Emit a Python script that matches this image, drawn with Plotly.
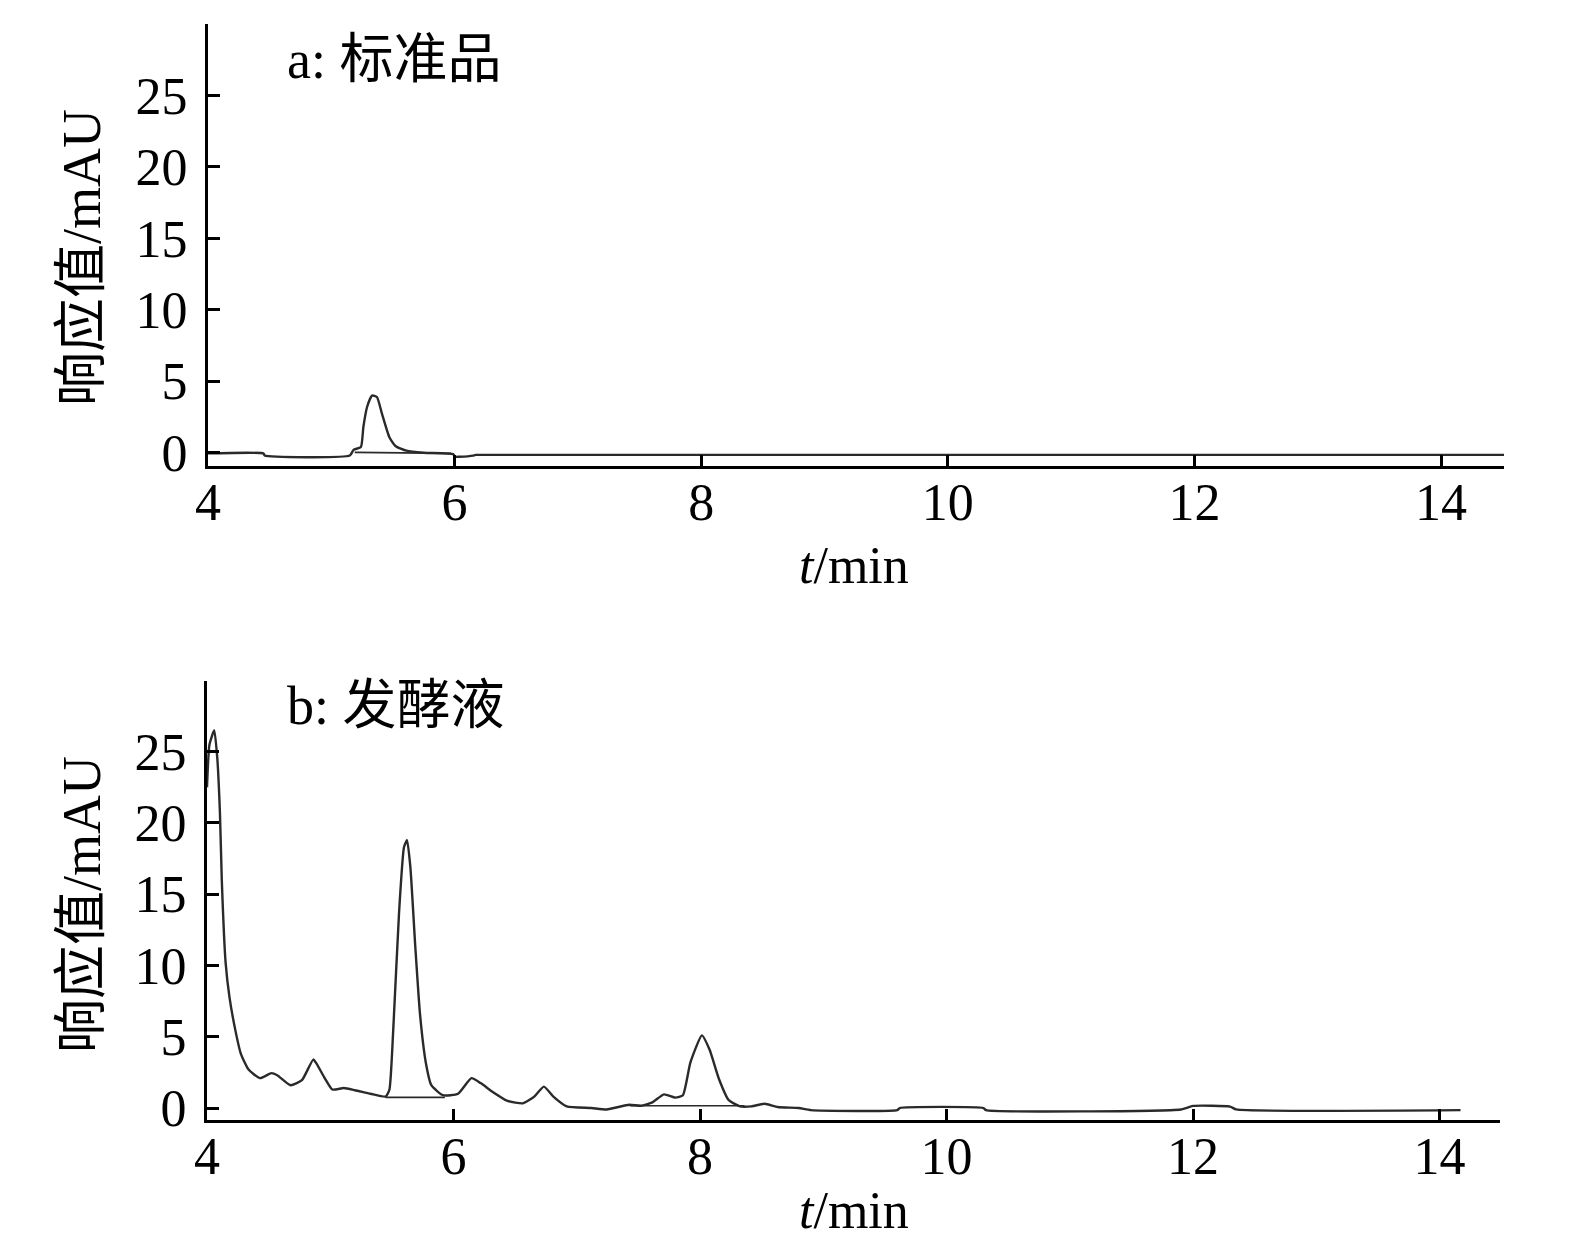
import plotly.graph_objects as go

# ---------------- data ----------------
a_time = [4.0, 4.45, 4.46, 5.15, 5.18, 5.24, 5.26, 5.29, 5.33, 5.37, 5.41, 5.47, 5.52,
          5.61, 5.75, 5.99, 6.0, 6.04, 6.15, 6.17, 14.51]
a_signal = [-0.05, -0.05, -0.2, -0.2, 0.2, 0.4, 1.8, 3.2, 4.0, 3.9, 2.75, 1.1, 0.47,
            0.14, 0.0, -0.1, -0.28, -0.28, -0.2, -0.15, -0.15]
a_base_time = [5.19, 5.97]
a_base_signal = [0.02, -0.05]

b_time = [4.0, 4.02, 4.059, 4.083, 4.105, 4.12, 4.151, 4.182, 4.229, 4.275, 4.337, 4.43,
          4.523, 4.57, 4.677, 4.77, 4.862, 4.89, 4.955, 5.017, 5.11, 5.2, 5.326, 5.45,
          5.48, 5.511, 5.558, 5.598, 5.623, 5.65, 5.69, 5.728, 5.775, 5.82, 5.914, 6.037,
          6.145, 6.22, 6.315, 6.439, 6.563, 6.655, 6.733, 6.81, 6.918, 7.119, 7.242, 7.427,
          7.52, 7.614, 7.707, 7.8, 7.861, 7.922, 8.015, 8.077, 8.155, 8.232, 8.324, 8.417,
          8.525, 8.63, 8.8, 8.9, 9.6, 9.62, 10.3, 10.32, 11.9, 12.0, 12.3, 12.35, 14.17]
b_signal = [22.5, 25.5, 26.5, 24.6, 20.7, 16.0, 10.2, 7.8, 5.5, 3.8, 2.7, 2.1,
            2.45, 2.3, 1.6, 1.95, 3.4, 3.1, 2.1, 1.3, 1.4, 1.25, 1.0, 0.8,
            1.3, 5.5, 13.7, 18.3, 18.8, 16.9, 11.3, 6.6, 3.2, 1.6, 0.9, 1.0,
            2.1, 1.75, 1.15, 0.5, 0.33, 0.8, 1.5, 0.8, 0.12, 0.0, -0.1, 0.23,
            0.16, 0.4, 0.96, 0.73, 0.9, 3.2, 5.1, 4.1, 2.0, 0.56, 0.12, 0.12,
            0.3, 0.07, 0.0, -0.15, -0.15, 0.0, 0.0, -0.15, -0.1, 0.15, 0.1, -0.1, -0.15]
b_base_time = [5.45, 5.93, None, 7.43, 8.36]
b_base_signal = [0.75, 0.75, None, 0.16, 0.16]

x_ticks = [4, 6, 8, 10, 12, 14]
y_ticks = [0, 5, 10, 15, 20, 25]
panel_labels = ["a: 标准品", "b: 发酵液"]
x_title = "<i>t</i>/min"
y_title = "响应值/mAU"

# ---------------- layout helpers ----------------
OFF = 8
W, H = 1575 - 2 * OFF, 1252 - 2 * OFF


def px(X):
    return (X - OFF) / W


def py(Y):
    return 1 - (Y - OFF) / H


SERIF = "Liberation Serif, Times New Roman, serif"
CJK = "Liberation Serif, Noto Sans CJK SC, serif"
LINE = "#2a2a2a"

fig = go.Figure()
fig.add_trace(go.Scatter(x=a_time, y=a_signal, mode="lines", xaxis="x", yaxis="y",
                         line=dict(color=LINE, width=2.4, shape="spline", smoothing=0.5),
                         showlegend=False))
fig.add_trace(go.Scatter(x=a_base_time, y=a_base_signal, mode="lines", xaxis="x", yaxis="y",
                         line=dict(color=LINE, width=1.6), showlegend=False))
fig.add_trace(go.Scatter(x=b_time, y=b_signal, mode="lines", xaxis="x2", yaxis="y2",
                         line=dict(color=LINE, width=2.4, shape="spline", smoothing=0.5),
                         showlegend=False))
fig.add_trace(go.Scatter(x=b_base_time, y=b_base_signal, mode="lines", xaxis="x2", yaxis="y2",
                         line=dict(color=LINE, width=1.6), showlegend=False))

axis_common = dict(showgrid=False, zeroline=False, showline=True, linecolor="black",
                   linewidth=3, ticks="inside", tickwidth=3, tickcolor="black",
                   automargin=False,
                   tickfont=dict(family=SERIF, size=52, color="black"))

fig.update_layout(
    width=W, height=H, autosize=False,
    margin=dict(l=0, r=0, t=0, b=0, pad=0),
    paper_bgcolor="white", plot_bgcolor="white",
    xaxis=dict(domain=[px(208), px(1504)], anchor="y", range=[4, 14.51],
               tickvals=x_ticks, ticklen=11, ticklabelstandoff=-11, **axis_common),
    yaxis=dict(domain=[py(466), py(24)], anchor="x", range=[-0.93, 30],
               tickvals=y_ticks, ticklen=12, ticklabelstandoff=7, **axis_common),
    xaxis2=dict(domain=[px(207), px(1500)], anchor="y2", range=[4, 14.49],
                tickvals=x_ticks, ticklen=11, ticklabelstandoff=-11, **axis_common),
    yaxis2=dict(domain=[py(1120), py(681)], anchor="x2", range=[-0.84, 29.96],
                tickvals=y_ticks, ticklen=12, ticklabelstandoff=7, **axis_common),
)

annos = []
for label, ly, ty, yy in [(panel_labels[0], 60, 565, 258), (panel_labels[1], 706, 1210, 905)]:
    annos.append(dict(text=label, x=px(285), y=py(ly), xref="paper", yref="paper",
                      xanchor="left", yanchor="middle", showarrow=False,
                      font=dict(family=CJK, size=54, color="black")))
    annos.append(dict(text=x_title, x=px(854), y=py(ty), xref="paper", yref="paper",
                      xanchor="center", yanchor="middle", showarrow=False,
                      font=dict(family=SERIF, size=52, color="black")))
    annos.append(dict(text=y_title, x=px(82), y=py(yy), xref="paper", yref="paper",
                      xanchor="center", yanchor="middle", showarrow=False, textangle=-90,
                      font=dict(family=CJK, size=54, color="black")))
fig.update_layout(annotations=annos)

fig.write_html("out.html")
